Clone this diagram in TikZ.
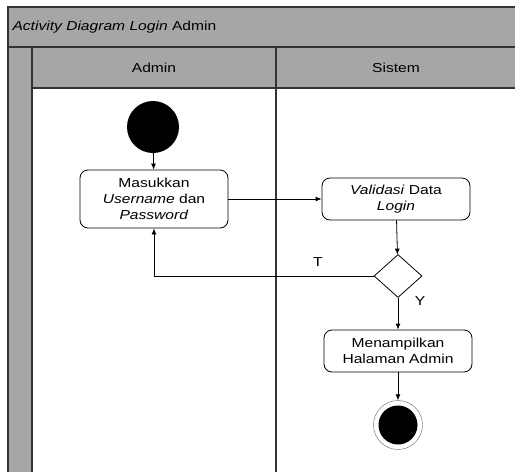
\documentclass[tikz,border=0pt]{standalone}
\usepackage{fontspec}
\setmainfont{Liberation Sans}[FakeStretch=1.2]
\usetikzlibrary{positioning, shapes.geometric, arrows.meta}
\definecolor{lanegray}{HTML}{A6A6A6}
\tikzset{
	actnode/.style={
			rectangle,
			rounded corners=8pt,
			draw=black,
			thick,
			fill=white,
			minimum width=148pt,
			minimum height=42pt,
			inner sep=2pt,
			align=center,
			font=\fontsize{13}{16}\selectfont
		},
	startnode/.style={
			circle,
			fill=black,
			minimum size=52pt,
			inner sep=0pt
		},
	endnode/.style={
			circle,
			draw=black!60,
			thin,
			fill=white,
			minimum size=49pt,
			inner sep=0pt,
			path picture={\fill[black] (path picture bounding box.center) circle (19.5pt);}
		},
	decnode/.style={
			diamond,
			draw=black,
			thick,
			fill=white,
			minimum width=48pt,
			minimum height=43pt,
			inner sep=0pt
		},
	lanetext/.style={
			font=\fontsize{13}{15}\selectfont
		},
	laneline/.style={
			draw=black!80,
			line width=1.2pt
		},
	flow/.style={
			-{Latex[length=6pt,width=5pt]},
			thick
		}
}

\begin{document}
\begin{tikzpicture}[x=1pt, y=-1pt]
\useasboundingbox (0,0) rectangle (515,472);
% swimlane frame
\fill[lanegray] (8,7) rectangle (515,47);
\fill[lanegray] (8,47) rectangle (32,472);
\fill[lanegray] (32,47) rectangle (515,88);
\draw[laneline] (8,472) -- (8,7) -- (515,7);
\draw[laneline] (8,47) -- (515,47);
\draw[laneline] (32,47) -- (32,472);
\draw[laneline] (32,88) -- (515,88);
\draw[laneline] (276,47) -- (276,472);
\node[lanetext, anchor=west] (title) at (9,27) {\textit{Activity Diagram Login} Admin};
\node[lanetext] (admin) at (154,68) {Admin};
\node[lanetext] (sistem) at (396,68) {Sistem};

% activities
\node[startnode] (start) at (153,127) {};
\node[actnode, minimum height=58pt] (masuk) at (154,199) {Masukkan\\\textit{Username} dan\\\textit{Password}};
\node[actnode] (valid) at (396,199) {\textit{Validasi} Data\\\textit{Login}};
\node[decnode] (dec) at (398,276) {};
\node[actnode] (tampil) at (398,351) {Menampilkan\\Halaman Admin};
\node[endnode] (end) at (398,425) {};

\node[lanetext] (lblT) at (318,262) {T};
\node[lanetext] (lblY) at (420,301) {Y};

\draw[flow] (start) -- (masuk);
\draw[flow] (masuk) -- (valid);
\draw[flow] (valid) -- (dec);
\draw[flow] (dec.west) -| (masuk.south);
\draw[flow] (dec) -- (tampil);
\draw[flow] (tampil) -- (end);

\end{tikzpicture}
\end{document}
